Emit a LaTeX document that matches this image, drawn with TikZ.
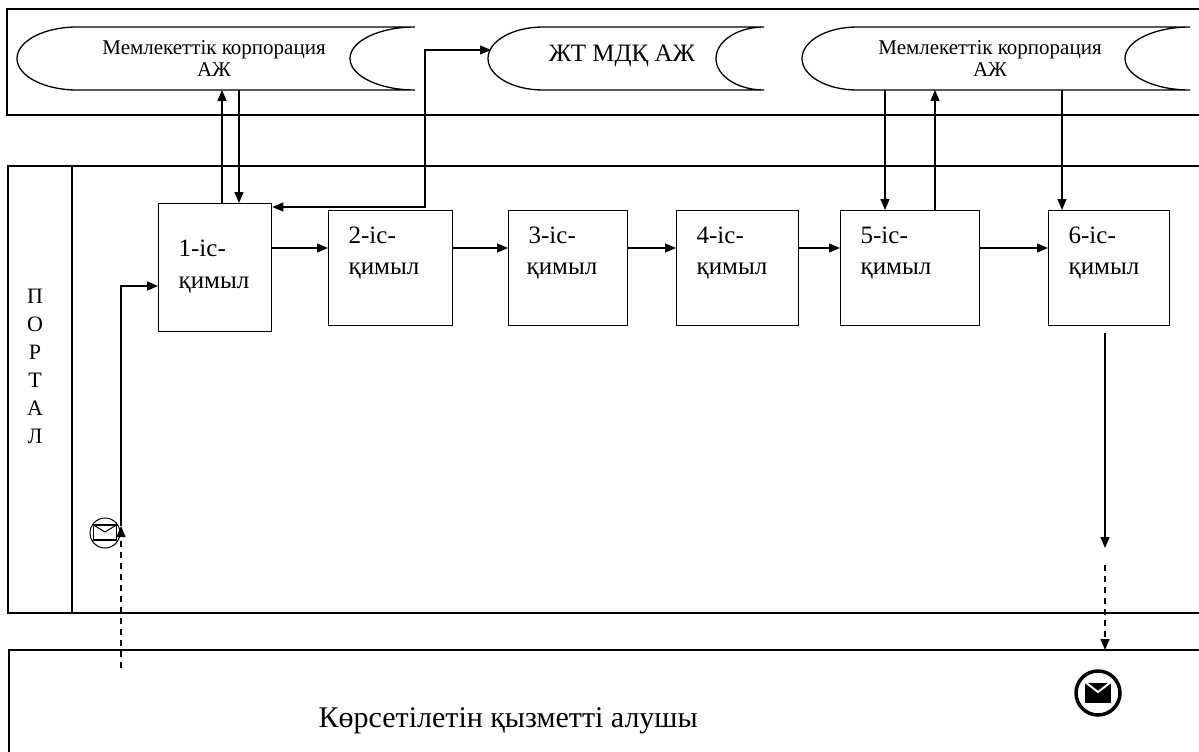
\documentclass[tikz,border=0pt]{standalone}
\usepackage{fontspec}
\setmainfont{Liberation Serif}
\usetikzlibrary{arrows.meta,calc}
\begin{document}
\begin{tikzpicture}[x=1pt,y=-1pt,line width=1.3pt,
  arr/.style={-{Triangle[length=11pt,width=9pt]}},
  arrb/.style={{Triangle[length=11pt,width=9pt]}-{Triangle[length=11pt,width=9pt]}},
  dsh/.style={dash pattern=on 6pt off 5pt},
  stepbox/.style={draw,anchor=north west,inner sep=0pt},
  lbl/.style={anchor=base west,inner sep=0pt,font=\fontsize{25}{30}\selectfont},
  stxt/.style={align=center,inner sep=0pt,font=\fontsize{21}{22}\selectfont},
  lane/.style={line width=1.3pt}]
\useasboundingbox (0,0) rectangle (1199,752);
\fill[white] (0,0) rectangle (1199,752);

% lanes
\draw[lane] (1199,9) -- (7,9) -- (7,115) -- (1199,115);
\draw[lane] (1199,166) -- (8,166) -- (8,613) -- (1199,613);
\draw[lane] (72,166) -- (72,613);
\draw[lane] (1199,650) -- (9,650) -- (9,752);

% stored data shapes
\draw (77,27) -- (415,27)
  .. controls (379.1,27) and (350,41.1) .. (350,58.5)
  .. controls (350,75.9) and (379.1,90) .. (415,90)
  -- (77,90)
  .. controls (43.9,90) and (17,75.9) .. (17,58.5)
  .. controls (17,41.1) and (43.9,27) .. (77,27) -- cycle;
\draw (543,27) -- (764,27)
  .. controls (737.5,27) and (716,41.1) .. (716,58.5)
  .. controls (716,75.9) and (737.5,90) .. (764,90)
  -- (543,90)
  .. controls (512.6,90) and (488,75.9) .. (488,58.5)
  .. controls (488,41.1) and (512.6,27) .. (543,27) -- cycle;
\draw (857,27) -- (1190,27)
  .. controls (1154.1,27) and (1125,41.1) .. (1125,58.5)
  .. controls (1125,75.9) and (1154.1,90) .. (1190,90)
  -- (857,90)
  .. controls (826.6,90) and (802,75.9) .. (802,58.5)
  .. controls (802,41.1) and (826.6,27) .. (857,27) -- cycle;
\node[stxt] (s1t) at (214,59) {Мемлекеттік корпорация\\АЖ};
\node[inner sep=0pt,font=\fontsize{25}{30}\selectfont] (s2t) at (622,56) {ЖТ МДҚ АЖ};
\node[stxt] (s3t) at (990,59) {Мемлекеттік корпорация\\АЖ};

% portal label
\node[align=center,inner sep=0pt,font=\fontsize{22}{28}\selectfont] (portal) at (35,366) {П\\О\\Р\\Т\\А\\Л};

% boxes
\node[stepbox,minimum width=113pt,minimum height=128pt] (b1) at (158,203) {};
\node[stepbox,minimum width=124pt,minimum height=115pt] (b2) at (328,210) {};
\node[stepbox,minimum width=119pt,minimum height=115pt] (b3) at (508,210) {};
\node[stepbox,minimum width=122pt,minimum height=115pt] (b4) at (676,210) {};
\node[stepbox,minimum width=139pt,minimum height=115pt] (b5) at (840,210) {};
\node[stepbox,minimum width=121pt,minimum height=115pt] (b6) at (1048,210) {};

\node[lbl] (t1a) at (178,256) {1-іс-};
\node[lbl] (t1b) at (178,288) {қимыл};
\node[lbl] (t2a) at (348,243) {2-іс-};
\node[lbl] (t2b) at (348,274) {қимыл};
\node[lbl] (t3a) at (528,243) {3-іс-};
\node[lbl] (t3b) at (526,274) {қимыл};
\node[lbl] (t4a) at (696,243) {4-іс-};
\node[lbl] (t4b) at (696,274) {қимыл};
\node[lbl] (t5a) at (860,243) {5-іс-};
\node[lbl] (t5b) at (860,274) {қимыл};
\node[lbl] (t6a) at (1068,243) {6-іс-};
\node[lbl] (t6b) at (1068,274) {қимыл};

% bottom lane text
\node[anchor=base west,inner sep=0pt,font=\fontsize{30}{36}\selectfont] (recv) at (318,727) {Көрсетілетін қызметті алушы};

% envelopes
\node[circle,draw,line width=1pt,minimum size=30pt,inner sep=0pt] (env1) at (105,533) {};
\draw[line width=1.1pt] (93.5,525) rectangle (116.5,540);
\draw[line width=1pt] (93.5,525) -- (105,532) -- (116.5,525);
\node[circle,draw,line width=3.5pt,minimum size=44pt,inner sep=0pt] (env2) at (1098,693) {};
\fill (1085,683) rectangle (1111,703);
\draw[white,line width=2pt] (1085,682) -- (1098,692) -- (1111,682);

% coordinates for connectors
\coordinate (row) at (0,248);
\coordinate (s1u) at (222,90);
\coordinate (s1d) at (239,90);
\coordinate (jt) at (425,207);
\coordinate (s2in) at (491,50);
\coordinate (s3a) at (885,90);
\coordinate (s3b) at (935,90);
\coordinate (s3c) at (1062,90);
\coordinate (dstart) at (121,668);
\coordinate (dtip) at (121,526);
\coordinate (ent) at (0,286);
\coordinate (o1) at (1105,333);
\coordinate (o2) at (1105,548);
\coordinate (o3) at (1105,565);
\coordinate (o4) at (1105,650);

% connectors
\draw[arr] (b1.north -| s1u) -- (s1u);
\draw[arr] (s1d) -- (b1.north -| s1d);
\draw[arrb] (b1.east |- jt) -- (jt) |- (s2in);
\draw[arr] (b1.east |- row) -- (b2.west |- row);
\draw[arr] (b2.east |- row) -- (b3.west |- row);
\draw[arr] (b3.east |- row) -- (b4.west |- row);
\draw[arr] (b4.east |- row) -- (b5.west |- row);
\draw[arr] (b5.east |- row) -- (b6.west |- row);
\draw[arr] (s3a) -- (b5.north -| s3a);
\draw[arr] (b5.north -| s3b) -- (s3b);
\draw[arr] (s3c) -- (b6.north -| s3c);
\draw[arr,dsh] (dstart) -- (dtip);
\draw[arr] (dtip) |- (b1.west |- ent);
\draw[arr] (o1) -- (o2);
\draw[arr,dsh] (o3) -- (o4);
\end{tikzpicture}
\end{document}
